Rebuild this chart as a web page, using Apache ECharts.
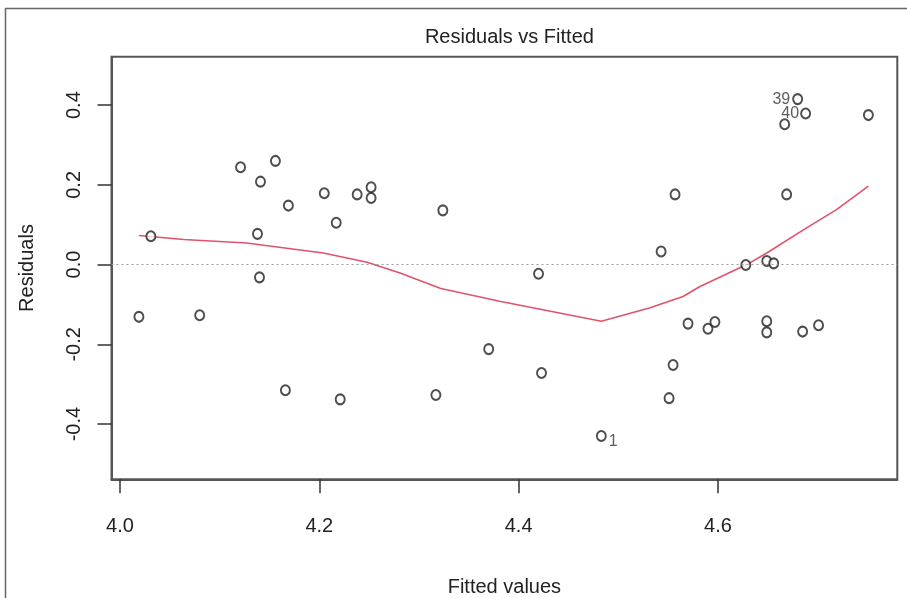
<!DOCTYPE html>
<html>
<head>
<meta charset="utf-8">
<script src="https://cdn.jsdelivr.net/npm/echarts@6/dist/echarts.min.js"></script>
<style>
  html, body { margin: 0; padding: 0; background: #fff; }
  #chart { width: 907px; height: 598px; }
</style>
</head>
<body>
<div id="chart"></div>
<script>
// Fitted values and residuals of the linear model
const fitted = [
  4.019, 4.031, 4.080, 4.121, 4.156, 4.141, 4.169, 4.138, 4.140, 4.205,
  4.217, 4.238, 4.252, 4.252, 4.166, 4.221, 4.324, 4.420, 4.543, 4.557,
  4.317, 4.370, 4.423, 4.483, 4.551, 4.555, 4.570, 4.590, 4.597, 4.649,
  4.649, 4.685, 4.701, 4.628, 4.649, 4.656, 4.669, 4.680, 4.688, 4.667,
  4.751
];
const residuals = [
  -0.131, 0.071, -0.127, 0.244, 0.260, 0.208, 0.148, 0.077, -0.032, 0.179,
  0.105, 0.176, 0.194, 0.167, -0.315, -0.338, 0.136, -0.023, 0.033, 0.176,
  -0.327, -0.212, -0.272, -0.430, -0.335, -0.252, -0.148, -0.161, -0.144, -0.142,
  -0.170, -0.168, -0.152, -0.001, 0.009, 0.003, 0.176, 0.415, 0.379, 0.352,
  0.375
];

// Observations flagged with their row number (largest residuals)
const flaggedIndex = [23, 37, 38];
const flaggedNames = ['1', '39', '40'];

// Lowess smoother through the residuals
const smoothFitted = [4.019, 4.064, 4.127, 4.204, 4.248, 4.281, 4.322, 4.381, 4.483,
                      4.532, 4.565, 4.582, 4.629, 4.649, 4.689, 4.719, 4.751];
const smoothResid  = [0.073, 0.063, 0.054, 0.029, 0.006, -0.021, -0.060, -0.092, -0.142,
                      -0.108, -0.080, -0.055, 0.000, 0.029, 0.092, 0.138, 0.197];

// Tick marks
const xTicks = [4.0, 4.2, 4.4, 4.6];
const yTicks = [-0.4, -0.2, 0.0, 0.2, 0.4];

const FONT = "'Liberation Sans', Arial, sans-serif";
const TEXT = '#222';

// label placement for the flagged points
const flagPlacement = {
  '1':  { position: 'right', distance: 2, offset: [0, 6] },
  '39': { position: 'left',  distance: 2, offset: [0, 0] },
  '40': { position: 'left',  distance: 1, offset: [0, 0] }
};

const points = fitted.map((x, i) => {
  const item = { value: [x, residuals[i]] };
  const k = flaggedIndex.indexOf(i);
  if (k >= 0) {
    const name = flaggedNames[k];
    const p = flagPlacement[name];
    item.label = {
      show: true,
      formatter: name,
      position: p.position,
      distance: p.distance,
      offset: p.offset,
      fontFamily: FONT,
      fontSize: 16,
      color: '#333'
    };
  }
  return item;
});

const smoothLine = smoothFitted.map((x, i) => [x, smoothResid[i]]);

const chart = echarts.init(document.getElementById('chart'), null, { renderer: 'canvas' });

const axisLineStyle = { color: '#555', width: 2 };
const tickStyle = { color: '#333', width: 1.5 };

chart.setOption({
  animation: false,
  backgroundColor: '#fff',
  title: {
    text: 'Residuals vs Fitted',
    left: 504.4,
    top: 22,
    textAlign: 'center',
    textStyle: { fontFamily: FONT, fontSize: 20, fontWeight: 'normal', color: TEXT }
  },
  graphic: [{
    type: 'rect',
    silent: true,
    shape: { x: 5.5, y: 8.5, width: 1000, height: 1000 },
    style: { fill: 'none', stroke: '#666', lineWidth: 1.5 }
  }],
  grid: {
    left: 111.5, top: 56.7, width: 785.8, height: 422.6,
    outerBoundsMode: 'none',
    containLabel: false,
    show: true, borderColor: '#555', borderWidth: 2, backgroundColor: '#fff'
  },
  xAxis: {
    type: 'value',
    min: 3.9915, max: 4.78,
    splitLine: { show: false },
    axisLine: { show: true, onZero: false, lineStyle: axisLineStyle },
    axisTick: { show: true, customValues: xTicks, length: 14, lineStyle: tickStyle },
    axisLabel: {
      customValues: xTicks,
      formatter: v => v.toFixed(1),
      fontFamily: FONT, fontSize: 20, color: TEXT, margin: 37
    },
    name: 'Fitted values',
    nameLocation: 'middle',
    nameGap: 98,
    nameTextStyle: { fontFamily: FONT, fontSize: 20, color: TEXT }
  },
  yAxis: {
    type: 'value',
    min: -0.5385, max: 0.5214,
    splitLine: { show: false },
    axisLine: { show: true, onZero: false, lineStyle: axisLineStyle },
    axisTick: { show: true, customValues: yTicks, length: 14, lineStyle: tickStyle },
    axisLabel: {
      customValues: yTicks,
      formatter: v => v.toFixed(1),
      rotate: 90,
      fontFamily: FONT, fontSize: 20, color: TEXT, margin: 27
    },
    name: 'Residuals',
    nameLocation: 'middle',
    nameRotate: 90,
    nameGap: 74,
    nameTextStyle: { fontFamily: FONT, fontSize: 20, color: TEXT }
  },
  series: [
    {
      type: 'line',
      data: smoothLine,
      showSymbol: false,
      symbol: 'none',
      silent: true,
      lineStyle: { color: '#DF536B', width: 1.6 },
      z: 2,
      markLine: {
        silent: true,
        symbol: ['none', 'none'],
        label: { show: false },
        lineStyle: { color: '#9a9a9a', type: [2, 3], width: 1 },
        data: [{ yAxis: 0 }]
      }
    },
    {
      type: 'scatter',
      data: points,
      symbol: 'emptyCircle',
      symbolSize: [9, 10],
      itemStyle: { color: '#222', borderColor: '#222', borderWidth: 1.5 },
      z: 3
    }
  ]
});
</script>
</body>
</html>
